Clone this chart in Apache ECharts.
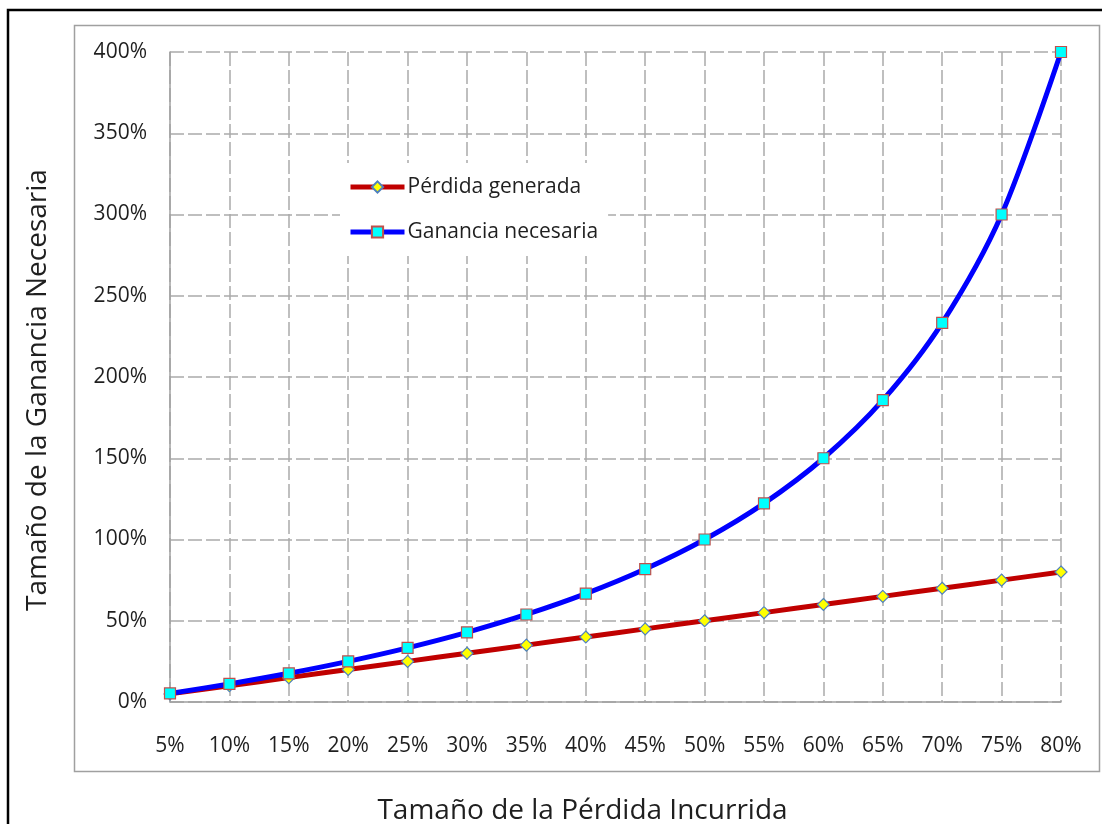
<!DOCTYPE html>
<html>
<head>
<meta charset="utf-8">
<script src="https://cdn.jsdelivr.net/npm/echarts@6/dist/echarts.min.js"></script>
<style>
  html, body { margin: 0; padding: 0; background: #ffffff; }
  #chart { width: 1102px; height: 824px; }
</style>
</head>
<body>
<div id="chart"></div>
<script>
// Loss size (x axis) and the two series, in percent
const categories = ['5%', '10%', '15%', '20%', '25%', '30%', '35%', '40%',
                    '45%', '50%', '55%', '60%', '65%', '70%', '75%', '80%'];
const perdidaGenerada = [5, 10, 15, 20, 25, 30, 35, 40, 45, 50, 55, 60, 65, 70, 75, 80];
const gananciaNecesaria = [5.26, 11.11, 17.65, 25, 33.33, 42.86, 53.85, 66.67,
                           81.82, 100, 122.22, 150, 185.71, 233.33, 300, 400];
const yTicks = { min: 0, max: 400, interval: 50 };

const FONT = 'Open Sans';
const TEXT = '#1f1f1f';
const GRID_LINE = { color: '#ababab', width: 1.5, type: [14, 4] };

const chart = echarts.init(document.getElementById('chart'), null, { renderer: 'canvas' });

chart.setOption({
  backgroundColor: '#ffffff',
  animation: false,
  textStyle: { fontFamily: FONT, color: TEXT },
  graphic: [
    { type: 'rect', shape: { x: 8, y: 10, width: 1110, height: 830 },
      style: { fill: 'none', stroke: '#000000', lineWidth: 2.5 }, z: -10 },
    { type: 'rect', shape: { x: 74.5, y: 25.5, width: 1025, height: 746 },
      style: { fill: 'none', stroke: '#a0a0a0', lineWidth: 1.5 }, z: -10 }
  ],
  grid: { left: 170, top: 52, right: 41, bottom: 122, containLabel: false, outerBoundsMode: 'none' },
  legend: {
    left: 340, top: 163,
    orient: 'vertical',
    padding: [11, 10, 11, 8],
    itemGap: 19,
    itemWidth: 54,
    itemHeight: 14,
    backgroundColor: '#ffffff',
    lineStyle: { width: 5 },
    textStyle: { fontFamily: FONT, fontSize: 21, color: TEXT, lineHeight: 26, padding: [0, 0, 0, -2] },
    data: ['Pérdida generada', 'Ganancia necesaria']
  },
  xAxis: {
    type: 'category',
    data: categories,
    boundaryGap: false,
    name: 'Tamaño de la Pérdida Incurrida',
    nameLocation: 'middle',
    nameGap: 95,
    nameTextStyle: { fontFamily: FONT, fontSize: 28, color: TEXT, padding: [0, 66, 0, 0] },
    axisLine: { lineStyle: { color: '#a0a0a0', width: 1.5 } },
    axisTick: { show: false },
    axisLabel: { fontFamily: FONT, fontSize: 21, color: TEXT, margin: 34 },
    splitLine: { show: true, lineStyle: GRID_LINE }
  },
  yAxis: {
    type: 'value',
    min: yTicks.min, max: yTicks.max, interval: yTicks.interval,
    name: 'Tamaño de la Ganancia Necesaria',
    nameLocation: 'middle',
    nameRotate: 90,
    nameGap: 118,
    nameTextStyle: { fontFamily: FONT, fontSize: 28, color: TEXT, padding: [0, 26, 0, 0] },
    axisLine: { show: true, lineStyle: { color: '#a0a0a0', width: 1.5 } },
    axisTick: { show: false },
    axisLabel: { fontFamily: FONT, fontSize: 21, color: TEXT, margin: 23,
                 formatter: v => v + '%' },
    splitLine: { show: true, lineStyle: GRID_LINE }
  },
  series: [
    {
      name: 'Pérdida generada',
      type: 'line',
      data: perdidaGenerada,
      smooth: 0.3,
      symbol: 'diamond',
      symbolSize: 12,
      lineStyle: { color: '#c00000', width: 5 },
      itemStyle: { color: '#ffff00', borderColor: '#4f81bd', borderWidth: 1.2 },
      z: 2
    },
    {
      name: 'Ganancia necesaria',
      type: 'line',
      data: gananciaNecesaria,
      smooth: 0.3,
      symbol: 'rect',
      symbolSize: 11,
      lineStyle: { color: '#0000ff', width: 5 },
      itemStyle: { color: '#00ffff', borderColor: '#c0504d', borderWidth: 1.2 },
      z: 3
    }
  ]
});
</script>
</body>
</html>
